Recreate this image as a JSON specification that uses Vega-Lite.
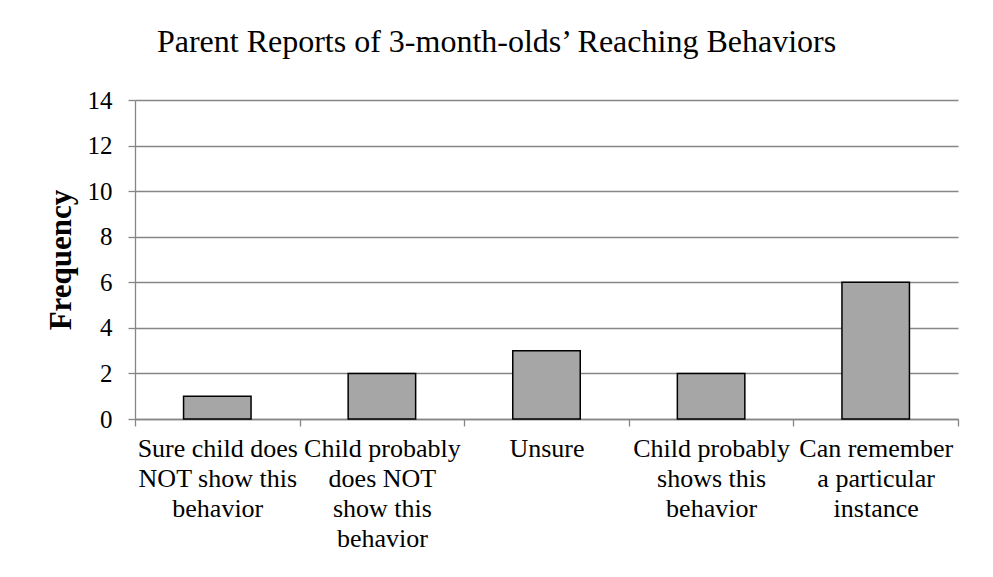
{
  "$schema": "https://vega.github.io/schema/vega-lite/v6.json",
  "autosize": {"type": "none"},
  "width": 823,
  "height": 319,
  "padding": {"left": 135, "top": 100, "right": 35, "bottom": 158},
  "background": "white",
  "title": {
    "text": "Parent Reports of 3-month-olds’ Reaching Behaviors",
    "font": "Liberation Serif",
    "fontSize": 32,
    "fontWeight": "normal",
    "color": "black",
    "anchor": "middle",
    "baseline": "alphabetic",
    "offset": 4,
    "dx": -50
  },
  "data": {
    "values": [
      {"category": "Sure child does\nNOT show this\nbehavior", "frequency": 1},
      {"category": "Child probably\ndoes NOT\nshow this\nbehavior", "frequency": 2},
      {"category": "Unsure", "frequency": 3},
      {"category": "Child probably\nshows this\nbehavior", "frequency": 2},
      {"category": "Can remember\na particular\ninstance", "frequency": 6}
    ]
  },
  "mark": {"type": "bar", "width": {"band": 0.41}, "fill": "#a6a6a6", "stroke": "black", "strokeWidth": 1.5},
  "encoding": {
    "x": {
      "field": "category",
      "type": "nominal",
      "sort": null,
      "scale": {"paddingInner": 0, "paddingOuter": 0},
      "axis": {
        "title": null,
        "labelAngle": 0,
        "labelExpr": "split(datum.label, '\\n')",
        "labelFont": "Liberation Serif",
        "labelFontSize": 26,
        "labelColor": "black",
        "labelLineHeight": 30,
        "labelLimit": 400,
        "labelOverlap": false,
        "labelPadding": 9,
        "labelBaseline": "top",
        "tickBand": "extent",
        "tickSize": 7,
        "tickColor": "#868686",
        "tickWidth": 1.3,
        "domainColor": "#868686",
        "domainWidth": 1.3,
        "grid": false
      }
    },
    "y": {
      "field": "frequency",
      "type": "quantitative",
      "scale": {"domain": [0, 14]},
      "axis": {
        "title": "Frequency",
        "titleFont": "Liberation Serif",
        "titleFontSize": 31,
        "titleFontWeight": "bold",
        "titleColor": "black",
        "titlePadding": 10,
        "values": [0, 2, 4, 6, 8, 10, 12, 14],
        "labelFont": "Liberation Serif",
        "labelFontSize": 25,
        "labelColor": "black",
        "labelPadding": 16,
        "tickSize": 7,
        "tickColor": "#868686",
        "tickWidth": 1.3,
        "domainColor": "#868686",
        "domainWidth": 1.3,
        "grid": true,
        "gridColor": "#868686",
        "gridWidth": 1.3
      }
    }
  },
  "config": {"view": {"stroke": null}}
}
